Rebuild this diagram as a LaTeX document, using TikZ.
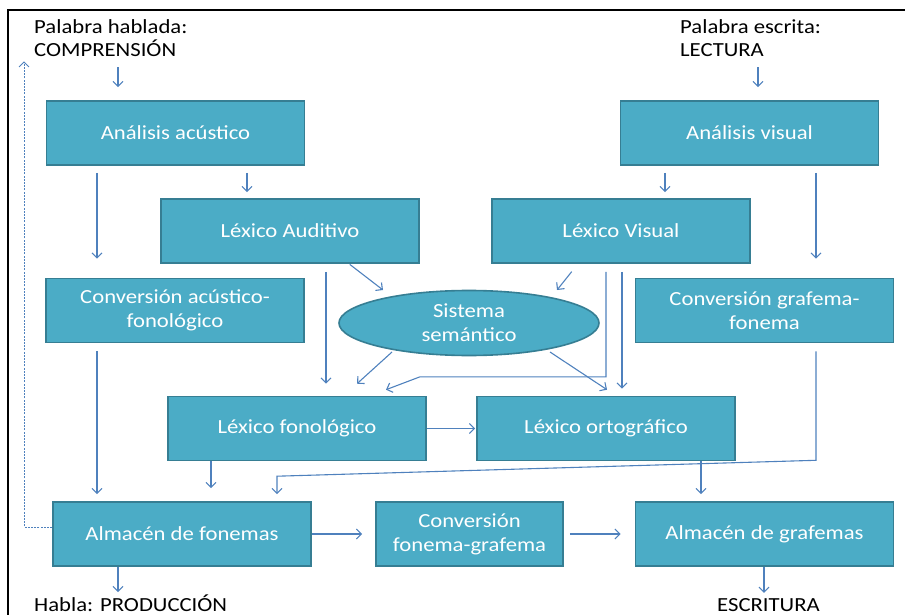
\documentclass[tikz,border=0pt]{standalone}
\usepackage{fontspec}
\setmainfont{Carlito}[FakeStretch=1.135]
\usetikzlibrary{arrows.meta, shapes.geometric}
\definecolor{cajacolor}{HTML}{4BACC6}
\definecolor{bordecolor}{HTML}{367E93}
\definecolor{flechacolor}{HTML}{4F81BD}

\begin{document}
\begin{tikzpicture}[x=1pt, y=-1pt,
    caja/.style={draw=bordecolor, line width=1.6pt, fill=cajacolor, text=white,
      minimum width=258pt, minimum height=64pt, inner sep=0pt, align=center,
      font=\fontsize{20}{24}\selectfont},
    nube/.style={caja, ellipse, minimum width=260pt, minimum height=65pt},
    etiqueta/.style={inner sep=0pt, align=left, font=\fontsize{20}{23}\selectfont},
    flecha/.style={draw=flechacolor, line width=1.1pt, -{Straight Barb[length=5pt, width=10pt]}}]
  \useasboundingbox (0,0) rectangle (905,615);

  % Draw the frame
  \draw[line width=1.3pt] (8,615) -- (8,10) -- (905,10);

  % Draw the labels
  \node[etiqueta, anchor=north west] (hablada) at (34,19) {Palabra hablada:\\COMPRENSIÓN};
  \node[etiqueta, anchor=north west] (escrita) at (680,19) {Palabra escrita:\\LECTURA};
  \node[etiqueta, anchor=base west] (habla) at (34,611) {Habla: PRODUCCIÓN};
  \node[etiqueta, anchor=base west] (escritura) at (717,611) {ESCRITURA};

  % Draw the boxes
  \node[caja] (aa) at (175.5,133) {Análisis acústico};
  \node[caja] (av) at (749.5,133) {Análisis visual};
  \node[caja] (la) at (290,231) {Léxico Auditivo};
  \node[caja] (lv) at (621,231) {Léxico Visual};
  \node[caja] (caf) at (175,310.5) {Conversión acústico-\\fonológico};
  \node[caja] (cgf) at (764.5,310.5) {Conversión grafema-\\fonema};
  \node[nube] (sem) at (469,323) {Sistema\\semántico};
  \node[caja] (lf) at (297,428.5) {Léxico fonológico};
  \node[caja] (lo) at (606,428.5) {Léxico ortográfico};
  \node[caja] (af) at (182,534) {Almacén de fonemas};
  \node[caja, minimum width=187pt] (cfg) at (469.5,534) {Conversión\\fonema-grafema};
  \node[caja] (ag) at (764.5,534) {Almacén de grafemas};

  % Draw the arrows
  \draw[flecha, shorten <=11pt, shorten >=13pt] (hablada.south -| 118,0) -- (aa.north -| 118,0);
  \draw[flecha, shorten <=11pt, shorten >=13pt] (escrita.south -| 758,0) -- (av.north -| 758,0);
  \draw[flecha, shorten <=7pt, shorten >=6pt] (aa.south -| 247,0) -- (la.north -| 247,0);
  \draw[flecha, shorten <=7pt, shorten >=19pt] (aa.south -| 97,0) -- (caf.north -| 97,0);
  \draw[flecha, shorten <=7pt, shorten >=6pt] (av.south -| 665,0) -- (lv.north -| 665,0);
  \draw[flecha, shorten <=7pt, shorten >=19pt] (av.south -| 816,0) -- (cgf.north -| 816,0);
  \draw[flecha, shorten <=1pt] (la.south -| 349,0) -- ([shift={(-86,-33)}]sem.center);
  \draw[flecha, shorten <=8pt, shorten >=12pt] (la.south -| 326,0) -- (lf.north -| 326,0);
  \draw[flecha, shorten <=10pt] (lv.south -| 578,0) -- ([shift={(88,-33)}]sem.center);
  \draw[flecha, shorten <=8pt] (lv.south -| 606,0) -- ++(0,113) -- ++(-186,0) -- ([shift={(89,-6)}]lf.north);
  \draw[flecha, shorten <=8pt, shorten >=7pt] (lv.south -| 622,0) -- (lo.north -| 622,0);
  \draw[flecha] ([shift={(-77,29)}]sem.center) -- ([shift={(60,-12)}]lf.north);
  \draw[flecha] ([shift={(81,29)}]sem.center) -- ([shift={(1,-6)}]lo.north);
  \draw[flecha, shorten >=1pt] (lf.east) -- (lo.west);
  \draw[flecha, shorten >=13pt] (lf.south -| 211,0) -- (af.north -| 211,0);
  \draw[flecha, shorten <=8pt, shorten >=7pt] (caf.south -| 97,0) -- (af.north -| 97,0);
  \draw[flecha, shorten <=8pt, shorten >=7pt] (cgf.south -| 816,0) -- ++(0,117) -- ([shift={(95,-25)}]af.north) -- (af.north -| 277,0);
  \draw[flecha, shorten >=7pt] (lo.south -| 701,0) -- (ag.north -| 701,0);
  \draw[flecha, shorten >=13pt] (af.east) -- (cfg.west);
  \draw[flecha, shorten <=6pt, shorten >=14pt] (cfg.east) -- (ag.west);
  \draw[flecha, shorten >=2pt] (af.south -| 118,0) -- (habla.north -| 118,0);
  \draw[flecha, shorten >=5pt] (ag.south -| 764,0) -- (escritura.north -| 764,0);
  \draw[flecha, line width=0.8pt, dash pattern=on 2pt off 1.2pt, shorten >=5pt] ([yshift=7pt]af.west) -| ([xshift=-10pt]hablada.south west);
\end{tikzpicture}
\end{document}
